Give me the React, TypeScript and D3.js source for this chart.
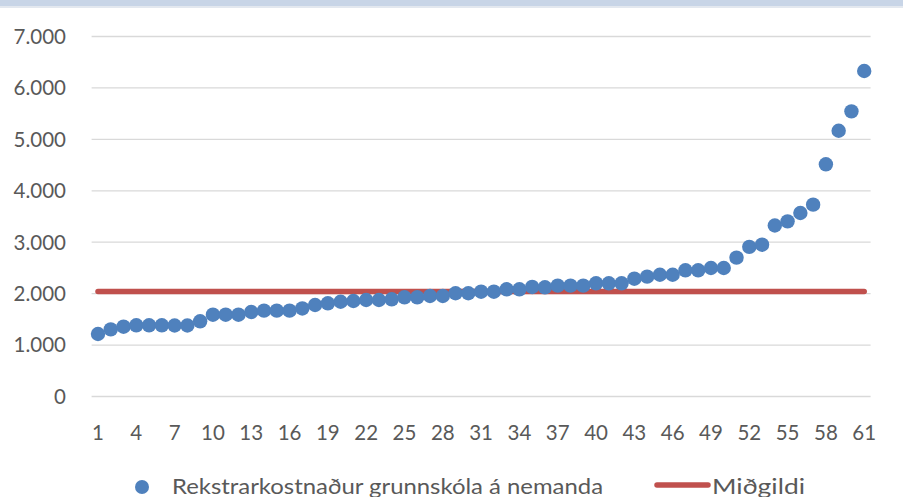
import React from "react";
import * as d3 from "d3";

const categories: number[] = d3.range(1, 62);
const costValues: number[] = [
  1215, 1306, 1357, 1384, 1384, 1384, 1380, 1380, 1462, 1591,
  1591, 1591, 1643, 1669, 1669, 1669, 1712, 1779, 1812, 1843,
  1857, 1876, 1876, 1890, 1929, 1929, 1954, 1954, 2007, 2007,
  2038, 2038, 2084, 2084, 2130, 2123, 2155, 2155, 2155, 2201,
  2201, 2201, 2291, 2330, 2368, 2368, 2454, 2454, 2498, 2498,
  2700, 2910, 2952, 3325, 3406, 3568, 3730, 4515, 5168, 5545, 6329,
];
const medianValue = 2040;
const yTicks: number[] = [0, 1000, 2000, 3000, 4000, 5000, 6000, 7000];
const xTickLabels: number[] = [1, 4, 7, 10, 13, 16, 19, 22, 25, 28, 31, 34, 37, 40, 43, 46, 49, 52, 55, 58, 61];
const seriesNames: string[] = ["Rekstrarkostnaður grunnskóla á nemanda", "Miðgildi"];

const W = 903;
const H = 497;
const FONT = "Lato, 'Liberation Sans', sans-serif";
const TEXT = "#595959";
const BLUE = "#4F81BD";
const RED = "#C0504D";

export default function App() {
  const x = d3.scaleBand<number>().domain(categories).range([91.6, 870.6]);
  const cx = (c: number) => (x(c) as number) + x.bandwidth() / 2;
  const y = d3.scaleLinear().domain([0, 7000]).range([396.5, 36.5]);
  const fmt = (v: number) => d3.format(",")(v).replace(/,/g, ".");
  const line = d3.line<number>().x((c) => cx(c)).y(() => y(medianValue));

  return (
    <div style={{ position: "fixed", left: 0, top: 0, width: W, height: H, background: "#fff" }}>
      <svg width={W} height={H} style={{ display: "block" }}>
        <rect x={0} y={0} width={W} height={6} fill="#C8D5E7" />
        <rect x={0} y={6} width={W} height={2} fill="#E3E8EF" />
        {yTicks.map((t) => (
          <g key={t}>
            <line x1={91.6} x2={870.6} y1={y(t)} y2={y(t)} stroke="#D9D9D9" strokeWidth={1.3} />
            <text x={66} y={y(t)} dy="0.36em" textAnchor="end" fontFamily={FONT} fontSize={20.5} fill={TEXT}>
              {fmt(t)}
            </text>
          </g>
        ))}
        {xTickLabels.map((c) => (
          <text key={c} x={cx(c)} y={440} textAnchor="middle" fontFamily={FONT} fontSize={20.5} fill={TEXT}>
            {c}
          </text>
        ))}
        <path
          d={line([categories[0], categories[categories.length - 1]]) || ""}
          stroke={RED}
          strokeWidth={5.5}
          strokeLinecap="round"
          fill="none"
        />
        {costValues.map((v, i) => (
          <circle key={i} cx={cx(categories[i])} cy={y(v)} r={7.2} fill={BLUE} />
        ))}
        <circle cx={142} cy={487} r={7} fill={BLUE} />
        <text x={172} y={494} fontFamily={FONT} fontSize={21} fill={TEXT} textLength={431} lengthAdjust="spacingAndGlyphs">
          {seriesNames[0]}
        </text>
        <line x1={657} x2={708} y1={485} y2={485} stroke={RED} strokeWidth={5.5} strokeLinecap="round" />
        <text x={712} y={494} fontFamily={FONT} fontSize={21} fill={TEXT} textLength={93} lengthAdjust="spacingAndGlyphs">
          {seriesNames[1]}
        </text>
      </svg>
    </div>
  );
}
